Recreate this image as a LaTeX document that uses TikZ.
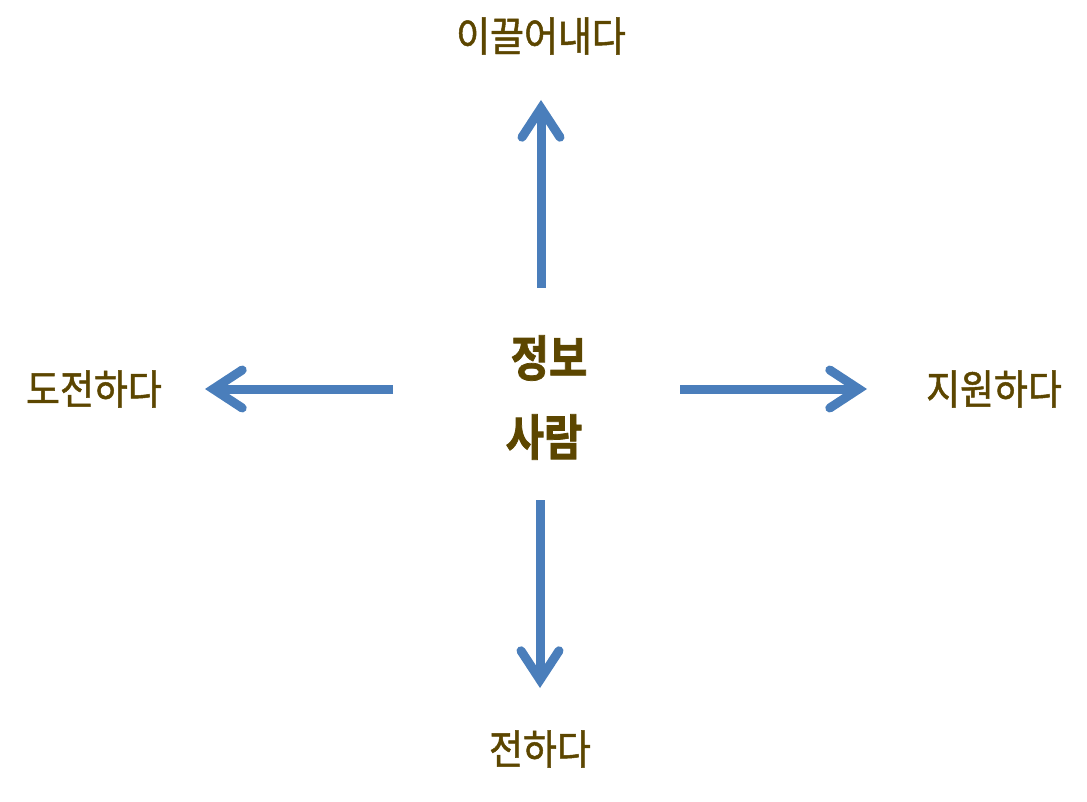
\documentclass[tikz,border=0pt]{standalone}
\usepackage{fontspec}
\setmainfont{Noto Sans CJK KR}
\newfontfamily\lblfont{Noto Sans CJK KR}[FakeBold=1.2,FakeStretch=0.9]
\newfontfamily\midfont{Noto Sans CJK KR}[UprightFont=* Bold,FakeBold=1.5,FakeStretch=0.85]
\usetikzlibrary{arrows.meta}
\definecolor{txtbrown}{RGB}{92,70,0}
\definecolor{arrblue}{RGB}{74,126,187}
\begin{document}
\begin{tikzpicture}[x=1pt,y=-1pt,
  lbl/.style={text=txtbrown,font=\lblfont\fontsize{41}{46}\selectfont,inner sep=0pt,anchor=center},
  mid/.style={text=txtbrown,font=\midfont\fontsize{49}{54}\selectfont,inner sep=0pt,anchor=center},
  arr/.style={draw=arrblue,line width=9pt,line cap=butt,
    -{Straight Barb[length=29pt,width=38pt,line cap=round,line join=miter]}}]
\useasboundingbox (0,0) rectangle (1087,802);
\node[lbl] (top) at (541,36) {이끌어내다};
\node[lbl] (left) at (94,389) {도전하다};
\node[lbl] (right) at (994,389) {지원하다};
\node[lbl] (bottom) at (540,749) {전하다};
\node[mid] (info) at (549,358) {정보};
\node[mid] (people) at (544,437) {사람};
\coordinate (us) at (541,288); \coordinate (ut) at (541,100);
\coordinate (ds) at (540,500); \coordinate (dt) at (540,688);
\coordinate (ls) at (393,389); \coordinate (lt) at (205,389);
\coordinate (rs) at (680,389); \coordinate (rt) at (867,389);
\draw[arr] (us) -- (ut);
\draw[arr] (ds) -- (dt);
\draw[arr] (ls) -- (lt);
\draw[arr] (rs) -- (rt);
\end{tikzpicture}
\end{document}
